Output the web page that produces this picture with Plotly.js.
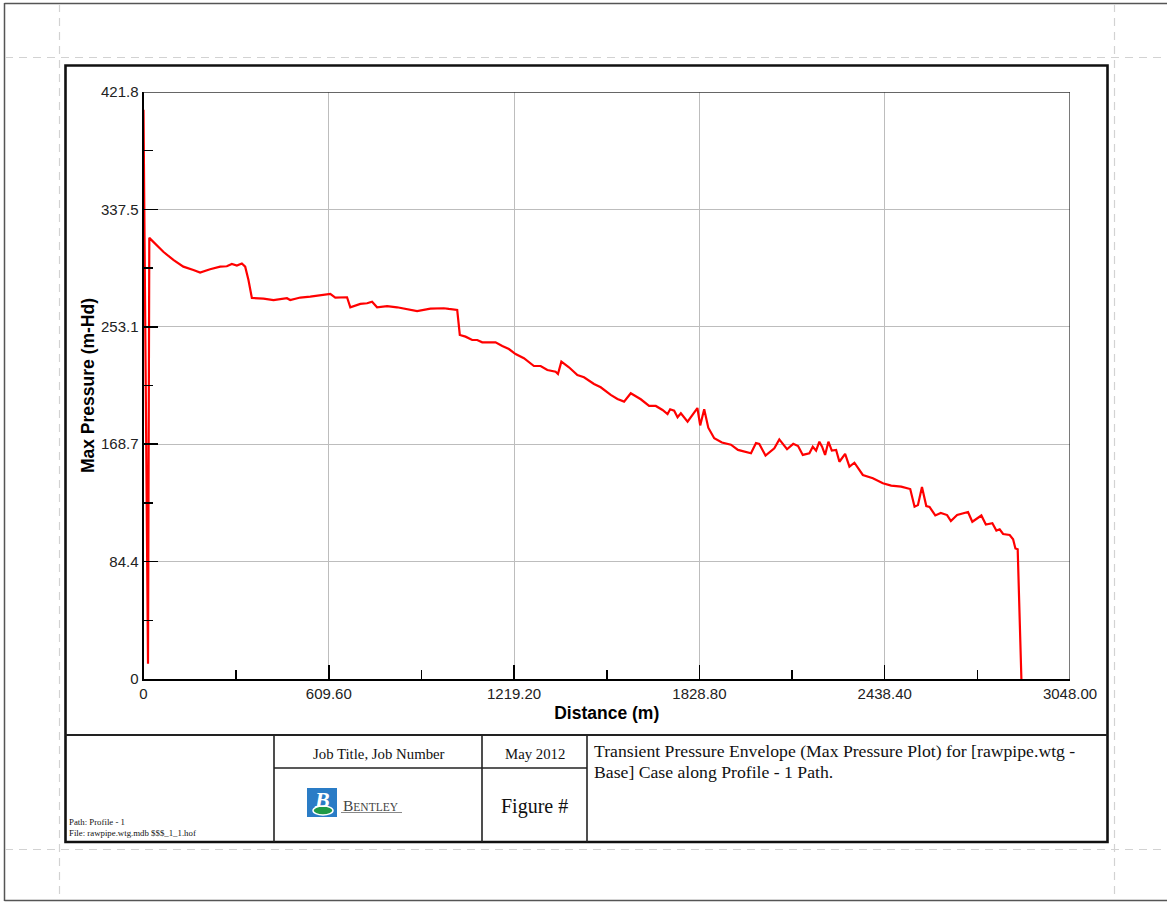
<!DOCTYPE html>
<html>
<head>
<meta charset="utf-8">
<script src="https://cdn.plot.ly/plotly-3.0.1.min.js"></script>
<style>
  html, body { margin: 0; padding: 0; background: #ffffff; }
  #chart { width: 1167px; height: 903px; }
</style>
</head>
<body>
<div id="chart"></div>
<script>
// Maximum transient pressure head along the profile path
const distance = [
  0, 14.8, 19.1, 44.5, 65.2, 98.2, 131.1, 164.1, 186.2, 219.1,
  252.1, 274.1, 290.6, 307.1, 323.6, 334.5, 345.3, 356.5, 394.8, 427.7,
  471.9, 482.7, 515.7, 548.6, 581.6, 614.5, 631.0, 658.4, 669.6, 680.4,
  713.4, 735.5, 752.0, 768.4, 801.4, 834.3, 867.3, 900.2, 944.0, 987.9,
  1004.3, 1032.0, 1040.6, 1059.4, 1081.4, 1097.9, 1114.4, 1158.2, 1180.3, 1202.1,
  1224.1, 1251.5, 1284.4, 1306.5, 1328.6, 1355.9, 1363.5, 1374.7, 1399.7, 1427.4,
  1449.2, 1482.1, 1504.2, 1537.1, 1559.2, 1581.0, 1603.0, 1636.0, 1663.4, 1685.4,
  1707.5, 1724.0, 1732.6, 1745.8, 1757.0, 1767.8, 1789.9, 1822.2, 1831.4, 1844.6,
  1858.0, 1877.6, 1903.0, 1932.6, 1955.7, 1976.4, 1998.5, 2015.0, 2025.8, 2046.3,
  2075.3, 2091.7, 2117.1, 2137.5, 2153.4, 2168.9, 2190.6, 2201.8, 2212.7, 2223.5,
  2232.4, 2242.3, 2253.2, 2264.4, 2278.6, 2289.4, 2308.2, 2322.4, 2338.8, 2366.5,
  2399.5, 2432.4, 2459.8, 2492.7, 2522.4, 2536.6, 2547.8, 2561.0, 2575.2, 2586.0,
  2604.8, 2622.9, 2643.7, 2656.2, 2676.6, 2712.5, 2726.7, 2756.4, 2771.2, 2792.6,
  2805.8, 2816.6, 2827.9, 2849.6, 2860.8, 2868.4, 2875.9, 2888.1
];
const maxPressure = [
  409, 11, 317, 311.5, 307.0, 301.1, 296.3, 293.9, 292.1, 294.4,
  296.3, 296.6, 298.2, 297.1, 298.6, 296.3, 286.7, 273.8, 273.3, 272.3,
  273.6, 272.3, 274.1, 274.7, 275.7, 276.7, 274.0, 274.5, 274.3, 267.1,
  269.5, 270.0, 271.1, 267.1, 268.0, 267.1, 265.7, 264.4, 266.1, 266.4,
  265.9, 265.2, 247.2, 246.0, 243.6, 243.6, 241.9, 241.9, 239.3, 237.1,
  233.5, 230.5, 224.9, 224.9, 222.0, 220.8, 219.2, 228.0, 224.0, 218.4,
  216.8, 212.0, 209.6, 204.1, 201.2, 199.3, 205.3, 201.0, 196.2, 196.2,
  193.3, 190.4, 193.8, 192.8, 188.1, 190.9, 184.9, 194.7, 182.2, 193.8,
  180.6, 173.0, 169.9, 168.4, 164.6, 163.3, 162.2, 169.6, 168.9, 160.6,
  165.8, 172.2, 165.1, 169.0, 167.4, 161.0, 162.2, 166.9, 164.1, 170.5,
  166.9, 161.0, 170.5, 164.1, 164.6, 156.1, 161.7, 152.6, 155.4, 146.6,
  144.2, 140.6, 139.0, 138.2, 136.5, 123.8, 125.0, 138.0, 124.3, 123.6,
  117.5, 119.3, 117.8, 113.5, 117.8, 120.0, 113.0, 117.5, 111.0, 111.9,
  106.7, 107.6, 104.2, 103.5, 100.4, 93.8, 93.2, 0
];

// Axis tick labels
const xTickLabels = ['0', '609.60', '1219.20', '1828.80', '2438.40', '3048.00'];
const yTickLabels = ['0', '84.4', '168.7', '253.1', '337.5', '421.8'];
const xMax = 3048.0;
const yMax = 421.8;

// Title block text
const jobTitle = 'Job Title, Job Number';
const dateText = 'May 2012';
const figureText = 'Figure #';
const descLine1 = 'Transient Pressure Envelope (Max Pressure Plot) for [rawpipe.wtg -';
const descLine2 = 'Base] Case along Profile - 1 Path.';
const pathText = 'Path: Profile - 1';
const fileText = 'File: rawpipe.wtg.mdb $$$_1_1.hof';

// ---- page geometry helpers (page pixels -> paper fractions) ----
const W = 1167, H = 903;
const px = v => v / W;
const py = v => 1 - v / H;

const xTickVals = xTickLabels.map(Number);
const yTickVals = yTickLabels.map((_, i) => i * yMax / (yTickLabels.length - 1));
const mids = arr => arr.slice(0, -1).map((v, i) => (v + arr[i + 1]) / 2);

const sans = 'Liberation Sans, Arial, sans-serif';
const serif = 'Liberation Serif, Times New Roman, serif';

function line(x0, y0, x1, y1, color, width, dash) {
  return { type: 'line', xref: 'paper', yref: 'paper',
           x0: px(x0), y0: py(y0), x1: px(x1), y1: py(y1),
           line: { color: color, width: width, dash: dash || 'solid' } };
}
function note(text, x, y, size, opts) {
  return Object.assign({ text: text, xref: 'paper', yref: 'paper', x: px(x), y: py(y),
    showarrow: false, xanchor: 'center', yanchor: 'middle',
    font: { family: serif, size: size, color: '#111' } }, opts || {});
}

const shapes = [
  // sheet edge
  line(4.5, 3, 4.5, 901, '#555', 1.5),
  line(4.5, 3.5, 1167, 3.5, '#555', 1.5),
  line(4.5, 900.5, 1167, 900.5, '#555', 1.5),
  // print margin guides
  line(5, 57.5, 1167, 57.5, '#d2d2d2', 1.2, '8px,6px'),
  line(5, 849.5, 1167, 849.5, '#d2d2d2', 1.2, '8px,6px'),
  line(59.5, 4, 59.5, 900, '#d2d2d2', 1.2, '8px,6px'),
  line(1114.5, 4, 1114.5, 900, '#d2d2d2', 1.2, '8px,6px'),
  // drawing frame
  { type: 'rect', xref: 'paper', yref: 'paper', x0: px(65.5), y0: py(842), x1: px(1107.5), y1: py(65.5),
    line: { color: '#111', width: 2.6 } },
  // title block grid
  line(65.5, 735, 1107.5, 735, '#222', 2),
  line(274, 735, 274, 842, '#222', 1.6),
  line(482, 735, 482, 842, '#222', 1.6),
  line(587, 735, 587, 842, '#222', 1.6),
  line(274, 768, 587, 768, '#222', 1.6),
  // plot box (top and right)
  { type: 'line', xref: 'x', yref: 'y', x0: 0, x1: xMax, y0: yMax, y1: yMax, line: { color: '#333', width: 1.3 } },
  { type: 'line', xref: 'x', yref: 'y', x0: xMax, x1: xMax, y0: 0, y1: yMax, line: { color: '#333', width: 1.3 } },
  // company logo mark
  { type: 'rect', xref: 'paper', yref: 'paper', x0: px(307), y0: py(817), x1: px(337), y1: py(788),
    line: { width: 0 }, fillcolor: '#2a7cc6' },
  { type: 'circle', xref: 'paper', yref: 'paper', x0: px(313), y0: py(815), x1: px(333), y1: py(806),
    line: { width: 1.5, color: '#ffffff' }, fillcolor: '#1f9a47' },
  line(341, 812.5, 402, 812.5, '#888', 1)
];

const annotations = [
  note(jobTitle, 379, 754, 14.8),
  note(dateText, 534.5, 754, 14.8),
  note(figureText, 534.5, 806, 20),
  note(descLine1, 592, 751, 17.7, { xanchor: 'left' }),
  note(descLine2, 592, 772, 17.7, { xanchor: 'left' }),
  note(pathText, 67, 822, 8.8, { xanchor: 'left' }),
  note(fileText, 67, 832.5, 8.8, { xanchor: 'left' }),
  note('<b><i>B</i></b>', 322, 799, 22, { font: { family: serif, size: 22, color: '#ffffff' } }),
  note('B<span style="font-size:11.5px">ENTLEY</span>', 341, 805, 15.5,
       { xanchor: 'left', font: { family: serif, size: 15.5, color: '#444' } })
];

const trace = {
  type: 'scatter', mode: 'lines',
  x: distance, y: maxPressure,
  line: { color: '#ff0000', width: 2.2 },
  hoverinfo: 'x+y'
};

const axisCommon = {
  ticks: 'inside', tickcolor: '#000', tickwidth: 1.5, ticklen: 14,
  showline: true, linecolor: '#000', linewidth: 2,
  showgrid: true, gridcolor: '#bdbdbd', gridwidth: 1,
  zeroline: false, tickmode: 'array',
  tickfont: { family: sans, size: 15, color: '#222' },
  automargin: false, fixedrange: true
};

const layout = {
  width: W, height: H,
  margin: { l: 0, r: 0, t: 0, b: 0, pad: 0 },
  paper_bgcolor: '#ffffff', plot_bgcolor: '#ffffff',
  showlegend: false,
  xaxis: Object.assign({}, axisCommon, {
    domain: [px(143.5), px(1070)],
    range: [0, xMax],
    tickvals: xTickVals, ticktext: xTickLabels,
    minor: { tickvals: mids(xTickVals), ticks: 'inside', ticklen: 9, tickcolor: '#000', tickwidth: 1.5, showgrid: false },
    title: { text: 'Distance (m)', standoff: 6,
             font: { family: sans, size: 17.5, color: '#000', weight: 'bold' } }
  }),
  yaxis: Object.assign({}, axisCommon, {
    domain: [py(679), py(92)],
    range: [0, yMax],
    tickvals: yTickVals, ticktext: yTickLabels,
    minor: { tickvals: mids(yTickVals), ticks: 'inside', ticklen: 9, tickcolor: '#000', tickwidth: 1.5, showgrid: false },
    title: { text: 'Max Pressure (m-Hd)', standoff: 2,
             font: { family: sans, size: 17.5, color: '#000', weight: 'bold' } }
  }),
  shapes: shapes,
  annotations: annotations
};

Plotly.newPlot('chart', [trace], layout, { displayModeBar: false, staticPlot: true });
</script>
</body>
</html>
